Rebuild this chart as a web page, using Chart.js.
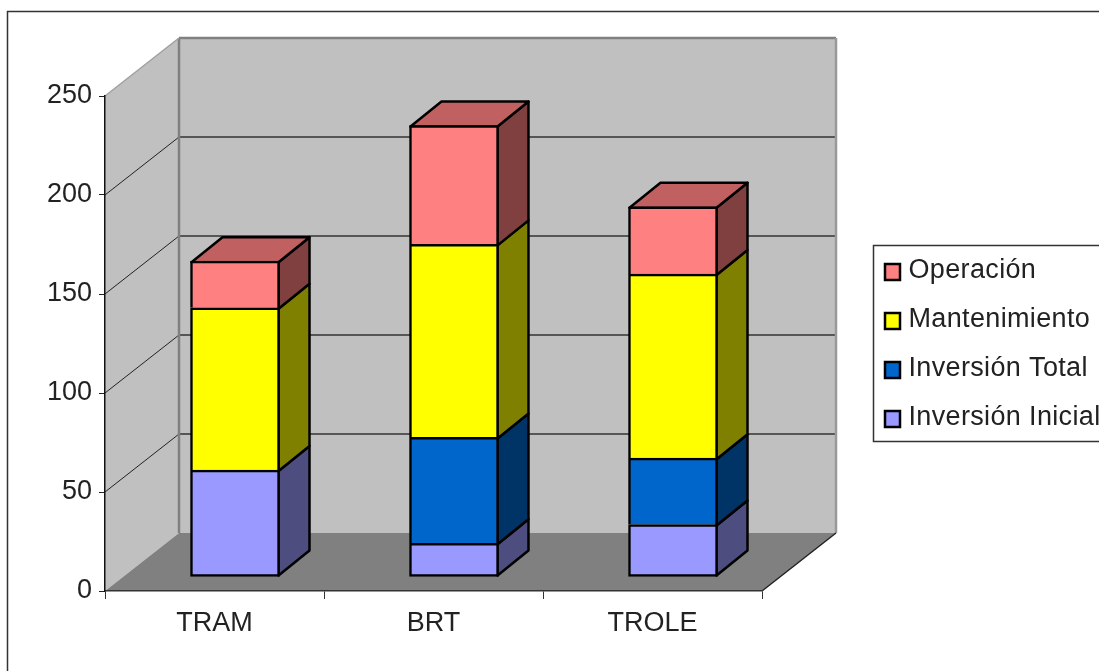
<!DOCTYPE html>
<html lang="es">
<head>
    <meta charset="UTF-8">
    <title>Costos por sistema</title>
    <script src="https://cdn.jsdelivr.net/npm/chart.js"></script>
    <style>
        html, body { margin: 0; background: #fff; }
        canvas { display: block; }
    </style>
</head>
<body>
    <canvas id="costChart" width="1099" height="671"></canvas>

    <script>
        // Datos
        const categories = ["TRAM", "BRT", "TROLE"];
        const inversionInicial = [54, 17, 26.5];
        const inversionTotal = [0, 53.5, 33.5];
        const mantenimiento = [82, 97.5, 93];
        const operacion = [23.5, 60, 34];
        const yTicks = [0, 50, 100, 150, 200, 250];

        const fontName = '"Liberation Sans", Arial, sans-serif';

        // Profundidad de la caja 3D y de las barras
        const wallDx = 74, wallDy = 58;
        const barShiftX = 20.5, barShiftY = 14;
        const barDx = 31, barDy = 25;

        const series = [
            { label: "Inversión Inicial", data: inversionInicial, front: "#9999FF", side: "#4D4D80" },
            { label: "Inversión Total", data: inversionTotal, front: "#0066CC", side: "#003366" },
            { label: "Mantenimiento", data: mantenimiento, front: "#FFFF00", side: "#808000" },
            { label: "Operación", data: operacion, front: "#FF8080", side: "#804040", top: "#C06060" }
        ];

        function poly(ctx, pts, fill, stroke, width) {
            ctx.beginPath();
            pts.forEach((p, i) => i ? ctx.lineTo(p[0], p[1]) : ctx.moveTo(p[0], p[1]));
            ctx.closePath();
            if (fill) { ctx.fillStyle = fill; ctx.fill(); }
            if (stroke) { ctx.strokeStyle = stroke; ctx.lineWidth = width; ctx.lineJoin = "round"; ctx.stroke(); }
        }

        function line(ctx, x1, y1, x2, y2, color, width) {
            ctx.beginPath();
            ctx.moveTo(x1, y1);
            ctx.lineTo(x2, y2);
            ctx.strokeStyle = color;
            ctx.lineWidth = width;
            ctx.stroke();
        }

        // Paredes, piso y rejilla de la caja 3D
        const boxPlugin = {
            id: "box3d",
            beforeDraw(chart) {
                const ctx = chart.ctx;
                const { left, right, top, bottom } = chart.chartArea;
                const yScale = chart.scales.y;

                ctx.save();
                ctx.strokeStyle = "#333";
                ctx.lineWidth = 1.5;
                ctx.strokeRect(7.5, 11.5, 1200, 800);

                poly(ctx, [[left + wallDx, top - wallDy], [right + wallDx, top - wallDy], [right + wallDx, bottom - wallDy], [left + wallDx, bottom - wallDy]], "#C0C0C0");
                poly(ctx, [[left, top], [left + wallDx, top - wallDy], [left + wallDx, bottom - wallDy], [left, bottom]], "#C0C0C0");
                poly(ctx, [[left, bottom], [left + wallDx, bottom - wallDy], [right + wallDx, bottom - wallDy], [right, bottom]], "#808080");

                yTicks.forEach(t => {
                    if (t === 0 || t === 250) return;
                    const y = yScale.getPixelForValue(t);
                    line(ctx, left, y, left + wallDx, y - wallDy, "#222", 1);
                    line(ctx, left + wallDx, y - wallDy, right + wallDx, y - wallDy, "#333", 1.5);
                });

                // bordes de las paredes
                line(ctx, left + wallDx, top - wallDy, left + wallDx, bottom - wallDy, "#808080", 2.5);
                line(ctx, left + wallDx, top - wallDy, right + wallDx, top - wallDy, "#808080", 2.5);
                line(ctx, right + wallDx, top - wallDy, right + wallDx, bottom - wallDy, "#999", 2.5);
                line(ctx, left, top, left + wallDx, top - wallDy, "#A0A0A0", 1.5);
                line(ctx, right, bottom, right + wallDx, bottom - wallDy, "#222", 1.5);
                ctx.restore();
            },
            // Caras laterales y superiores; las barras quedan desplazadas hacia el fondo
            beforeDatasetsDraw(chart) {
                const ctx = chart.ctx;
                ctx.save();
                ctx.translate(barShiftX, -barShiftY);
                series.forEach((s, i) => {
                    chart.getDatasetMeta(i).data.forEach(bar => {
                        const right = bar.x + bar.width / 2 - 1;
                        const left = bar.x - bar.width / 2 + 1;
                        const y = bar.y + 1;
                        const base = i === 0 ? bar.base - 1 : bar.base + 1;
                        if (Math.abs(bar.base - bar.y) < 0.5) return;
                        poly(ctx, [[right, y], [right + barDx, y - barDy], [right + barDx, base - barDy], [right, base]], s.side, "#000", 2.5);
                        if (s.top) {
                            poly(ctx, [[left, y], [left + barDx, y - barDy], [right + barDx, y - barDy], [right, y]], s.top, "#000", 2.5);
                        }
                    });
                });
            },
            afterDatasetsDraw(chart) {
                chart.ctx.restore();
            },
            // Leyenda
            afterDraw(chart) {
                const ctx = chart.ctx;
                ctx.save();
                ctx.fillStyle = "#fff";
                ctx.strokeStyle = "#333";
                ctx.lineWidth = 1.5;
                ctx.fillRect(873.5, 245.5, 300, 196);
                ctx.strokeRect(873.5, 245.5, 300, 196);

                ctx.font = "27px " + fontName;
                ctx.letterSpacing = "0.35px";
                ctx.textBaseline = "alphabetic";
                [...series].reverse().forEach((s, i) => {
                    const boxY = 264 + i * 49;
                    ctx.fillStyle = s.front;
                    ctx.strokeStyle = "#000";
                    ctx.lineWidth = 2.5;
                    ctx.fillRect(885, boxY, 15, 16);
                    ctx.strokeRect(885, boxY, 15, 16);
                    ctx.fillStyle = "#222";
                    ctx.fillText(s.label, 908.5, boxY + 14);
                });
                ctx.restore();
            }
        };

        new Chart(document.getElementById("costChart"), {
            type: "bar",
            data: {
                labels: categories,
                datasets: series.map((s, i) => ({
                    label: s.label,
                    data: s.data,
                    backgroundColor: s.front,
                    borderColor: "#000",
                    borderWidth: 2.5,
                    borderSkipped: i === 0 ? false : "start",
                    barThickness: 89,
                    clip: false
                }))
            },
            plugins: [boxPlugin],
            options: {
                responsive: false,
                animation: false,
                layout: { padding: { top: 96, right: 337, left: 0, bottom: 0 } },
                plugins: { legend: { display: false }, tooltip: { enabled: false } },
                scales: {
                    x: {
                        stacked: true,
                        afterFit(scale) { scale.height = 80; },
                        grid: { offset: true, drawOnChartArea: false, tickLength: 8, color: "#333" },
                        border: { color: "#333", width: 1.5 },
                        ticks: { color: "#222", padding: 8, maxRotation: 0, font: { family: fontName, size: 27 } }
                    },
                    y: {
                        stacked: true,
                        min: 0,
                        max: 250,
                        afterFit(scale) { scale.width = 105; },
                        grid: { drawOnChartArea: false, tickLength: 6, color: "#222" },
                        border: { color: "#111", width: 1.5 },
                        ticks: { stepSize: 50, color: "#222", padding: 7, font: { family: fontName, size: 27 } }
                    }
                }
            }
        });
    </script>
</body>
</html>
